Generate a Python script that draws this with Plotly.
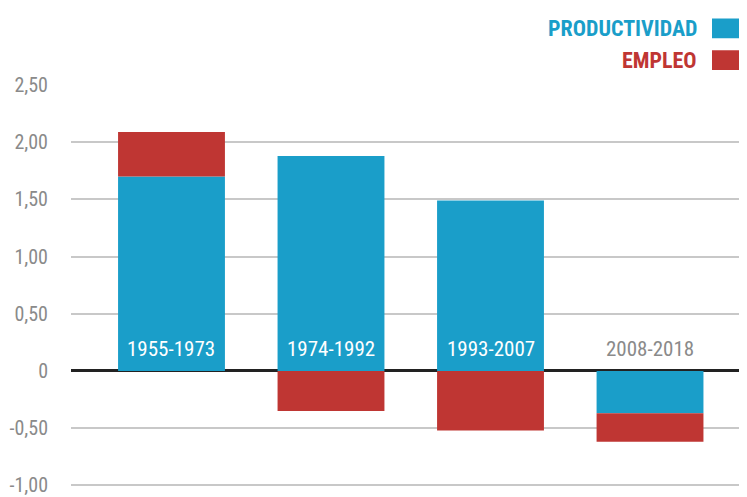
import plotly.graph_objects as go

periodos = ['1955-1973', '1974-1992', '1993-2007', '2008-2018']
productividad = [1.70, 1.88, 1.49, -0.37]
empleo = [0.39, -0.35, -0.52, -0.25]

tick_vals = [-1.0, -0.5, 0, 0.5, 1.0, 1.5, 2.0, 2.5]
tick_text = ['-1,00', '-0,50', '0', '0,50', '1,00', '1,50', '2,00', '2,50']

AZUL = '#1a9ec9'
ROJO = '#bf3633'
GRIS = '#8a8a8a'
FUENTE = 'Roboto Condensed, DejaVu Sans Condensed, sans-serif'

# la pagina tiene 8px de margen en el body, por eso la figura es 8px mas chica
W, H = 739, 489

fig = go.Figure()
fig.add_trace(go.Bar(x=periodos, y=productividad, name='PRODUCTIVIDAD',
                     marker=dict(color=AZUL, line=dict(width=0)), width=0.67))
fig.add_trace(go.Bar(x=periodos, y=empleo, name='EMPLEO',
                     marker=dict(color=ROJO, line=dict(width=0)), width=0.67))

# etiquetas de periodo dentro de las barras
for i, p in enumerate(periodos):
    color = 'white' if productividad[i] > 0.3 else GRIS
    fig.add_annotation(x=p, y=0.19, text=p, showarrow=False,
                       font=dict(family=FUENTE, size=21, color=color))

# leyenda a mano: texto a la izquierda, cuadro a la derecha
leyenda = [('PRODUCTIVIDAD', AZUL, 27), ('EMPLEO', ROJO, 59)]
for texto, color, ypx in leyenda:
    fig.add_annotation(xref='paper', yref='paper', x=(699 - 71) / 676,
                       y=1 + (84 - ypx) / 409, xanchor='right', yanchor='middle',
                       text='<b>' + texto + '</b>', showarrow=False,
                       font=dict(family=FUENTE, size=22, color=color))
    fig.add_shape(type='rect', xref='paper', yref='paper',
                  x0=(712 - 71) / 676, x1=1.0,
                  y0=1 + (84 - ypx - 10) / 409, y1=1 + (84 - ypx + 10) / 409,
                  fillcolor=color, line=dict(width=0))

fig.update_layout(
    barmode='relative',
    width=W, height=H,
    margin=dict(l=63, r=0, t=77, b=3),
    plot_bgcolor='white', paper_bgcolor='white',
    showlegend=False,
    font=dict(family=FUENTE, color=GRIS),
    xaxis=dict(range=[-0.63, 3.608], showticklabels=False, showgrid=False,
               zeroline=False, ticks=''),
    yaxis=dict(range=[-1.05, 2.5], tickvals=tick_vals, ticktext=tick_text,
               showgrid=True, gridcolor='#c8c8c8', gridwidth=1.5,
               zeroline=True, zerolinecolor='#222222', zerolinewidth=2.5,
               tickfont=dict(family=FUENTE, size=20, color=GRIS),
               ticklabelstandoff=22, ticklabeloverflow='allow', ticks=''),
)

fig.write_html('out.html')
